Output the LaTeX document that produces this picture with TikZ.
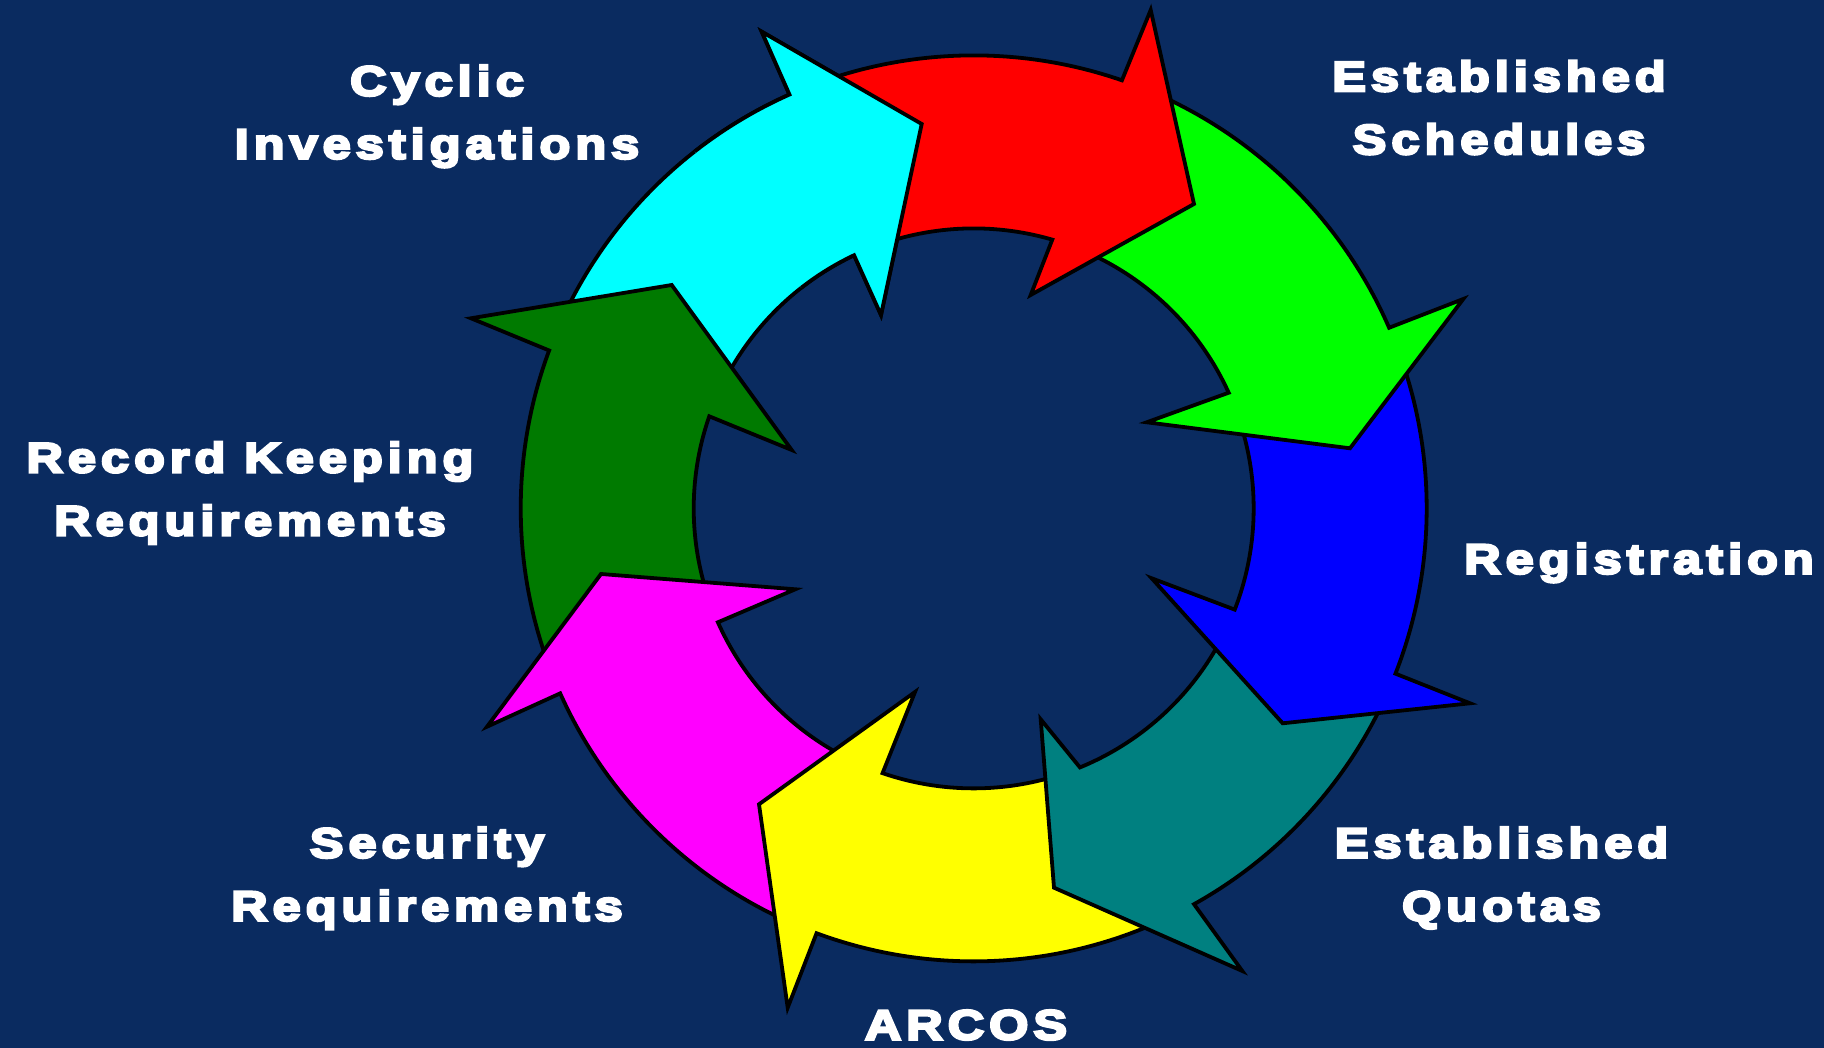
\documentclass[tikz,border=0pt]{standalone}
\usepackage{fontspec}
\newfontfamily\lblfont{Liberation Sans Bold}[FakeBold=6,FakeStretch=1.2,LetterSpace=12]
\definecolor{bg}{HTML}{0A2B60}
\definecolor{cyanA}{HTML}{00FFFF}
\definecolor{redA}{HTML}{FF0000}
\definecolor{greenA}{HTML}{00FF00}
\definecolor{blueA}{HTML}{0000FF}
\definecolor{tealA}{HTML}{008080}
\definecolor{yellowA}{HTML}{FFFF00}
\definecolor{magentaA}{HTML}{FF00FF}
\definecolor{dgreenA}{HTML}{007A00}
% #1 colour, #2 tail outer angle, #3 tail inner angle, #4 outer base angle,
% #5 inner base angle, #6 outer wing, #7 tip, #8 inner wing
\newcommand\myarrow[8]{%
  \path[arr,fill=#1] (#2:453) arc[start angle=#2,end angle=#4,radius=453]
    -- #6 -- #7 -- #8 -- (#5:280) arc[start angle=#5,end angle=#3,radius=280] -- cycle;}
\begin{document}
\begin{tikzpicture}[x=1pt,y=1pt,
  arr/.style={draw=black,line width=3.8pt,line join=miter,miter limit=10},
  lbl/.style={text=white,font=\lblfont\fontsize{42}{63}\selectfont,align=center,inner sep=0pt,anchor=north}]
\fill[bg] (0,0) rectangle (1824,1048);
\useasboundingbox (0,0) rectangle (1824,1048);
\coordinate (ctr) at (973.7,539.6);
\begin{scope}[shift={(ctr)}]
  \myarrow{cyanA}{156.1}{157.3}{114.0}{115.3}{(-212,476.7)}{(-52,384.4)}{(-92.7,193.4)}
  \myarrow{dgreenA}{-159.4}{-159.5}{-200.4}{-199.2}{(-502.7,190.1)}{(-302,223.4)}{(-182,58.4)}
  \myarrow{magentaA}{-113.8}{-112.5}{-155.9}{-156.0}{(-486.7,-218.3)}{(-372.7,-65.6)}{(-178.4,-80.9)}
  \myarrow{yellowA}{-64.4}{-71.2}{-110.3}{-109.0}{(-186,-499.3)}{(-214.7,-295.9)}{(-58.7,-183.6)}
  \myarrow{tealA}{-24.9}{-24.7}{-60.9}{-67.7}{(268.6,-462.6)}{(80.3,-379.3)}{(67,-210.9)}
  \myarrow{blueA}{20.0}{20.9}{-21.4}{-21.2}{(496.3,-194.9)}{(309,-214.9)}{(178,-69.9)}
  \myarrow{greenA}{67.4}{70.2}{23.5}{24.4}{(489.6,209.4)}{(376.3,60.1)}{(173,86.1)}
  \myarrow{redA}{110.5}{111.8}{70.9}{73.7}{(177,498.4)}{(220.3,304.4)}{(57,213.4)}
  \begin{scope}
    \clip (0,0) -- (92:640) arc[start angle=92,end angle=128,radius=640] -- cycle;
    \myarrow{cyanA}{156.1}{157.3}{114.0}{115.3}{(-212,476.7)}{(-52,384.4)}{(-92.7,193.4)}
  \end{scope}
\end{scope}
\node[lbl] (cyclic) at (437,983) {Cyclic\\Investigations};
\node[lbl] (sched) at (1499,987.5) {Established\\Schedules};
\node[lbl] (regis) at (1639,505) {Registration};
\node[lbl] (quotas) at (1501.5,221) {Established\\Quotas};
\node[lbl] (arcos) at (966,38) {ARCOS};
\node[lbl] (secur) at (427,221) {Security\\Requirements};
\node[lbl] (record) at (250,606.3) {Record Keeping\\Requirements};
\end{tikzpicture}
\end{document}
